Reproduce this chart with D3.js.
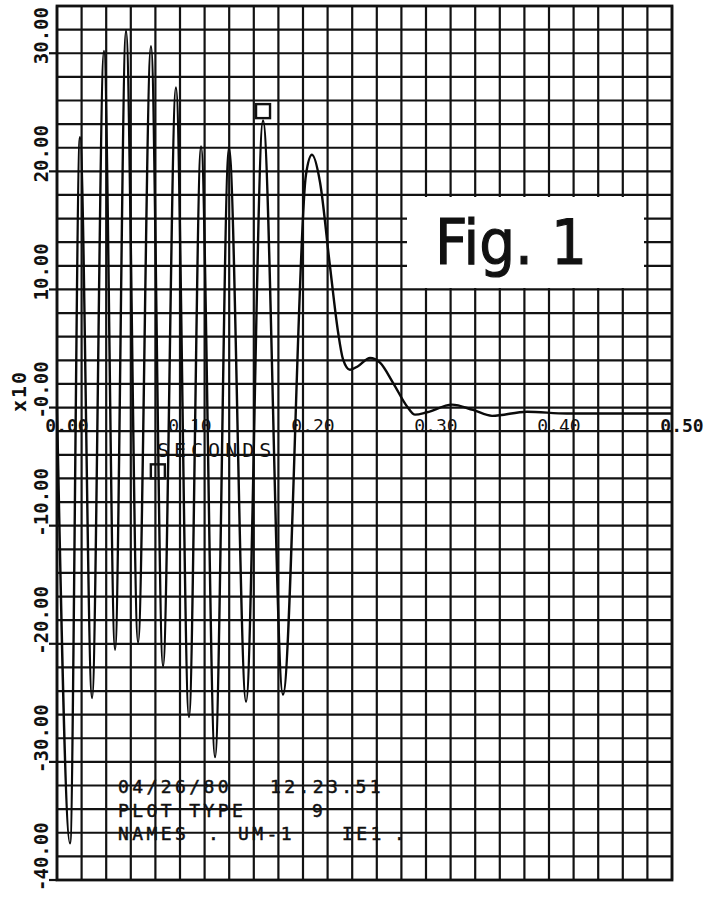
<!DOCTYPE html>
<html>
<head>
<meta charset="UTF-8">
<script src="https://d3js.org/d3.v7.min.js"></script>
<style>
  body { margin: 0; background: #fff; }
  svg { display: block; }
  .mono { font-family: "DejaVu Sans Mono", "Liberation Mono", monospace; fill: #111; }
</style>
</head>
<body>
<svg id="chart"></svg>
<script>
// signal (seconds, amplitude x10)
const time = [0, 0.0106, 0.0187, 0.0285, 0.0382, 0.0472, 0.0561, 0.0659, 0.0764, 0.0862,
  0.0967, 0.1073, 0.1171, 0.1285, 0.1398, 0.1537, 0.1675, 0.1837, 0.2024, 0.2073,
  0.2138, 0.2220, 0.2285, 0.2325, 0.2382, 0.2447, 0.2545, 0.2626, 0.2732, 0.2846,
  0.2911, 0.3008, 0.3211, 0.3382, 0.3537, 0.3821, 0.4146, 0.5];
const amplitude = [0, -36.9, 22.9, -24.6, 30.2, -20.5, 31.9, -19.9, 30.6, -21.9,
  27.1, -26.2, 22.1, -29.6, 22.0, -24.9, 24.3, -24.3, 19.7, 21.4,
  19.1, 11.9, 6.4, 4.1, 3.2, 3.5, 4.2, 3.8, 2.1, 0.1,
  -0.6, -0.4, 0.25, -0.2, -0.7, -0.35, -0.5, -0.5];

const markerTime = [0.082, 0.1675];
const markerValue = [-5.4, 25.1];

const xTicks = [0, 0.1, 0.2, 0.3, 0.4, 0.5];
const xTickLabels = ["0.00", "0.10", "0.20", "0.30", "0.40", "0.50"];
const yTicks = [30, 20, 10, 0, -10, -20, -30, -40];
const yTickLabels = ["30.00", "20.00", "10.00", "-0.00", "-10.00", "-20.00", "-30.00", "-40.00"];

const W = 708, H = 897;
const svg = d3.select("#chart").attr("width", W).attr("height", H);

const x = d3.scaleLinear().domain([0, 0.5]).range([57, 672]);
const y = d3.scaleLinear().domain([-40, 34]).range([880, 6]);

// grid paper
const grid = svg.append("g").attr("stroke", "#121212").attr("stroke-width", 2.2);
grid.selectAll(".vx").data(d3.range(0, 0.5001, 0.02)).enter().append("line")
  .attr("x1", d => x(d)).attr("x2", d => x(d))
  .attr("y1", y(34)).attr("y2", y(-40));
grid.selectAll(".hy").data(d3.range(-40, 34.001, 2)).enter().append("line")
  .attr("x1", x(0)).attr("x2", x(0.5))
  .attr("y1", d => y(d)).attr("y2", d => y(d));
// border + tick marks
svg.append("rect").attr("x", x(0)).attr("y", y(34))
  .attr("width", x(0.5) - x(0)).attr("height", y(-40) - y(34))
  .attr("fill", "none").attr("stroke", "#111").attr("stroke-width", 2.8);
svg.selectAll(".ytick").data(yTicks).enter().append("line")
  .attr("x1", x(0) - 8).attr("x2", x(0))
  .attr("y1", d => y(d)).attr("y2", d => y(d))
  .attr("stroke", "#111").attr("stroke-width", 2.2);

// Fig. 1 box
svg.append("rect").attr("x", 407).attr("y", 197).attr("width", 237).attr("height", 91)
  .attr("fill", "#fff");
svg.append("text").attr("x", 435).attr("y", 264)
  .attr("font-family", "DejaVu Sans, sans-serif").attr("font-size", 62)
  .attr("textLength", 152).attr("lengthAdjust", "spacingAndGlyphs")
  .attr("fill", "#111").attr("stroke", "#111").attr("stroke-width", 1.2)
  .text("Fig. 1");

// signal
const pts = time.map((t, i) => [t, amplitude[i]]);
svg.append("path").datum(pts)
  .attr("fill", "none").attr("stroke", "#0a0a0a").attr("stroke-width", 2.4)
  .attr("d", d3.line().x(d => x(d[0])).y(d => y(d[1])).curve(d3.curveMonotoneX));

svg.selectAll(".mk").data(markerTime).enter().append("rect")
  .attr("x", (d) => x(d) - 7).attr("y", (d, i) => y(markerValue[i]) - 7)
  .attr("width", 14).attr("height", 14)
  .attr("fill", "none").attr("stroke", "#111").attr("stroke-width", 2.4);

// y tick labels (rotated)
svg.selectAll(".ylab").data(yTicks).enter().append("text")
  .attr("class", "mono")
  .attr("transform", d => `translate(48,${y(d) + 11}) rotate(-90)`)
  .attr("font-size", 19).attr("font-weight", "bold")
  .text((d, i) => yTickLabels[i]);

svg.append("text").attr("class", "mono")
  .attr("transform", "translate(26,412) rotate(-90)")
  .attr("font-size", 20).attr("font-weight", "bold").attr("letter-spacing", 2)
  .text("x10");

// x tick labels along the zero line
svg.selectAll(".xlab").data(xTicks).enter().append("text")
  .attr("class", "mono")
  .attr("x", d => x(d) + 10).attr("y", 432)
  .attr("text-anchor", "middle")
  .attr("font-size", 18)
  .attr("font-weight", (d, i) => i === 5 || i === 0 ? "bold" : "normal")
  .attr("fill", (d, i) => i === 5 ? "#111" : "#333")
  .text((d, i) => xTickLabels[i]);

svg.append("text").attr("class", "mono")
  .attr("x", 157).attr("y", 457)
  .attr("font-size", 20).attr("letter-spacing", 5).attr("fill", "#333")
  .text("SECONDS");

// plot stamp
const stamp = [
  ["04/26/80", 118, 793], ["12.23.51", 270, 793],
  ["PLOT TYPE", 118, 817], ["9", 312, 817],
  ["NAMES", 118, 840], [".", 208, 840], ["UM-1", 238, 840], ["IE1", 342, 840], [".", 394, 840]
];
svg.selectAll(".stamp").data(stamp).enter().append("text")
  .attr("class", "mono")
  .attr("x", d => d[1]).attr("y", d => d[2])
  .attr("font-size", 18).attr("letter-spacing", 3.4)
  .attr("stroke", "#111").attr("stroke-width", 0.5)
  .text(d => d[0]);
</script>
</body>
</html>
